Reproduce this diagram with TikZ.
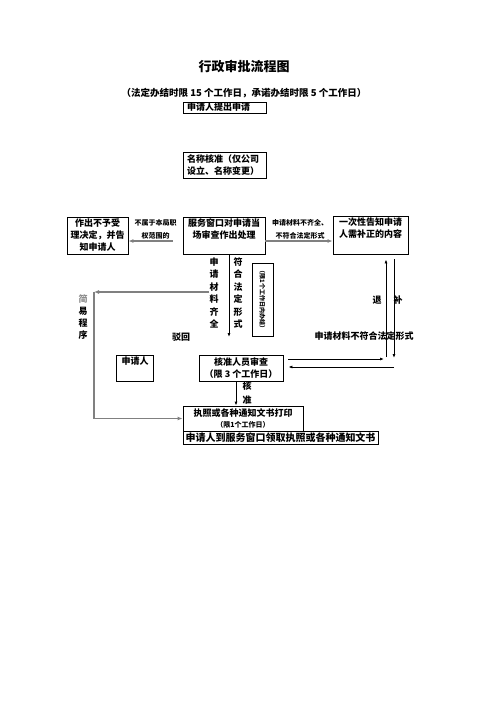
\documentclass[tikz,border=0pt]{standalone}
\usepackage{fontspec}
\setmainfont{Noto Sans CJK SC}
\usetikzlibrary{arrows.meta}
\tikzset{box/.style={draw, line width=.8pt, inner sep=2pt, align=center},
         lbl/.style={inner sep=0pt, align=center},
         small/.style={lbl, font=\bfseries\fontsize{7}{13}\selectfont},
         vtext/.style={lbl, font=\bfseries\fontsize{9}{12.5}\selectfont},
         garrow/.style={draw=black!50, line width=1.6pt, -{Latex[length=5pt,width=4pt]}},
         barrow/.style={line width=.8pt, -{Latex[length=4pt,width=3pt]}}}
\newcommand\toptxt[3]{\parbox[c][#1][t]{#2}{\centering #3}}

\begin{document}
\begin{tikzpicture}[x=1pt, y=-1pt, every node/.style={font=\bfseries\fontsize{9}{12}\selectfont}]
    \useasboundingbox (0,0) rectangle (496,702);

    \node[lbl, font=\bfseries\fontsize{13}{13}\selectfont] (title) at (244,66) {行政审批流程图};
    \node[lbl, font=\bfseries\fontsize{9.5}{12}\selectfont] (subtitle) at (244,93)
      {（法定办结时限 15 个工作日，承诺办结时限 5 个工作日）};

    \node[box, minimum width=83pt, minimum height=11pt, inner sep=0pt, align=left, text width=75pt] (apply) at (224.5,107.5) {申请人提出申请};
    \node[box, minimum width=83pt, minimum height=26pt, inner sep=0pt, align=left, text width=75pt] (namechk) at (224.5,165) {名称核准（仅公司\\设立、名称变更）};

    \node[box, minimum width=61pt, minimum height=37pt, inner sep=0pt] (refuse) at (97.5,235.5) {作出不予受\\理决定，并告\\知申请人};
    \node[box, minimum width=82pt, minimum height=37pt] (window) at (224,235.5)
      {\toptxt{33pt}{78pt}{服务窗口对申请当\\场审查作出处理}};
    \node[box, minimum width=75pt, minimum height=38pt] (notify) at (370.5,235)
      {\toptxt{34pt}{71pt}{一次性告知申请\\人需补正的内容}};

    \node[small] (outscope) at (155.5,229.5) {不属于本局职\\权范围的};
    \node[small] (incomplete) at (300,229) {申请材料不齐全、\\不符合法定形式};

    \node[vtext] (complete) at (214,293) {申\\请\\材\\料\\齐\\全};
    \node[vtext] (lawful) at (238,293) {符\\合\\法\\定\\形\\式};
    \node[box, rotate=-90, minimum width=73pt, minimum height=21pt, inner sep=0pt,
          font=\bfseries\fontsize{6}{6}\selectfont] (limit) at (262.5,299.5) {（限1个工作日内办结）};

    \node[lbl, font=\bfseries\fontsize{9}{12}\selectfont] (simple) at (83,317) {\textcolor{black!45}{简}\\易\\程\\序};
    \node[lbl] (reject) at (181,337) {驳回};

    \node[box, minimum width=37pt, minimum height=26pt] (applicant) at (135,368) {\toptxt{22pt}{33pt}{申请人}};
    \node[box, minimum width=84pt, minimum height=26pt, inner sep=0pt] (review) at (241,368) {核准人员审查\\（限 3 个工作日）};

    \node[lbl] (ret) at (377,300) {退};
    \node[lbl] (supp) at (398,300) {补};
    \node[lbl] (mismatch) at (364,336) {申请材料不符合法定形式};
    \node[lbl, font=\bfseries\fontsize{9}{14.5}\selectfont] (approve) at (247,393) {核\\准};

    \node[box, minimum width=120pt, minimum height=25pt, inner sep=0pt] (print) at (243,418.5)
      {执照或各种通知文书打印\\[-1pt]{\fontsize{7}{7}\selectfont（限1个工作日）}};
    \node[box, minimum width=195pt, minimum height=13pt, inner sep=0pt,
          font=\bfseries\fontsize{10}{12}\selectfont] (collect) at (280.5,437.5) {申请人到服务窗口领取执照或各种通知文书};

    \coordinate (passdown) at (229,337);
    \coordinate (corner) at (94,292);
    \coordinate (retfoot) at (386,357);
    \coordinate (suppfoot) at (394,358);

    \draw[garrow, shorten <=10pt] ([yshift=-5.5pt]window.west) -- ([yshift=-5.5pt]window.west -| refuse.east);
    \draw[garrow] ([yshift=-5.5pt]window.east) -- ([yshift=-5.5pt]window.east -| notify.west);
    \draw[barrow] (passdown |- window.south) -- (passdown);
    \draw[garrow] (complete.west |- corner) -- (corner);
    \draw[garrow] (corner) -- (corner |- print.west) -- (print.west);
    \draw[barrow] ([xshift=-5pt]review.south) -- ([xshift=-5pt]review.south |- print.north);

    % back and forth with the notice box
    \draw[barrow, shorten >=5pt] (retfoot) -- (retfoot |- notify.south);
    \draw[barrow, shorten <=5pt] (suppfoot |- notify.south) -- (suppfoot);
    \draw[barrow, shorten <=5pt, shorten >=2pt] ([yshift=9pt]review.east) -- ([yshift=9pt]review.east -| retfoot);
    \draw[barrow, shorten >=5pt] ([yshift=1pt]review.east -| suppfoot) -- ([yshift=1pt]review.east);
\end{tikzpicture}
\end{document}
